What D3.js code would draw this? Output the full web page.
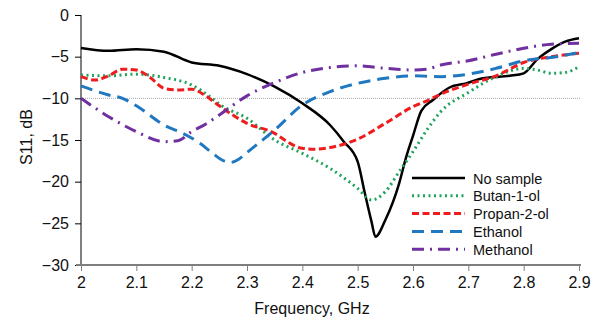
<!DOCTYPE html>
<html>
<head>
<meta charset="utf-8">
<script src="https://cdn.jsdelivr.net/npm/d3@7"></script>
<style>
  body { margin: 0; background: #fff; }
  text { font-family: "Liberation Sans", Arial, sans-serif; }
</style>
</head>
<body>
<div id="chart"></div>
<script>
// frequency (GHz), S11 (dB)
const noSample = [
  [2.0, -3.95], [2.05, -4.3], [2.1, -4.1], [2.15, -4.4], [2.2, -5.7], [2.25, -6.1],
  [2.3, -7.1], [2.35, -8.6], [2.4, -10.6], [2.45, -13.2], [2.475, -15.2], [2.5, -17.6],
  [2.513, -21.4], [2.525, -24.8], [2.532, -26.6], [2.55, -24.6], [2.575, -20.2],
  [2.587, -17.2], [2.6, -14.5], [2.615, -11.5], [2.636, -10.2], [2.666, -8.7],
  [2.696, -8.2], [2.726, -7.6], [2.775, -7.3], [2.8, -7.0], [2.825, -5.3],
  [2.85, -4.1], [2.875, -3.2], [2.9, -2.8]
];
const butanol = [
  [2.0, -7.2], [2.05, -7.3], [2.1, -7.1], [2.15, -7.5], [2.2, -8.4], [2.233, -9.8],
  [2.25, -10.7], [2.3, -12.4], [2.35, -15.0], [2.4, -16.6], [2.45, -18.4], [2.5, -20.8],
  [2.525, -22.2], [2.55, -21.2], [2.575, -18.8], [2.6, -16.4], [2.625, -13.8],
  [2.65, -11.6], [2.7, -9.3], [2.75, -7.4], [2.8, -6.4], [2.825, -6.6], [2.85, -7.0],
  [2.875, -6.9], [2.9, -6.2]
];
const propanol = [
  [2.0, -7.4], [2.025, -7.8], [2.05, -7.3], [2.075, -6.5], [2.1, -6.6], [2.125, -7.5],
  [2.15, -8.8], [2.175, -9.0], [2.2, -8.9], [2.225, -9.7], [2.25, -10.9], [2.3, -13.0],
  [2.35, -14.2], [2.375, -15.3], [2.4, -16.0], [2.425, -16.1], [2.45, -15.9],
  [2.5, -14.9], [2.55, -13.0], [2.6, -11.0], [2.625, -10.3], [2.65, -9.5], [2.7, -8.3],
  [2.75, -7.3], [2.8, -5.7], [2.85, -5.0], [2.9, -4.6]
];
const ethanol = [
  [2.0, -8.5], [2.05, -9.6], [2.075, -10.0], [2.1, -10.9], [2.15, -13.2], [2.19, -14.4],
  [2.215, -15.4], [2.238, -16.6], [2.255, -17.4], [2.27, -17.7], [2.285, -17.3],
  [2.3, -16.5], [2.35, -13.8], [2.4, -10.8], [2.45, -9.2], [2.5, -8.2], [2.55, -7.6],
  [2.6, -7.3], [2.65, -7.4], [2.7, -7.1], [2.75, -6.4], [2.8, -5.5], [2.85, -5.1], [2.9, -4.5]
];
const methanol = [
  [2.0, -10.0], [2.05, -12.2], [2.1, -14.0], [2.15, -15.2], [2.175, -15.1], [2.2, -14.0],
  [2.225, -13.1], [2.25, -12.0], [2.3, -9.7], [2.35, -8.1], [2.4, -6.9], [2.45, -6.3],
  [2.5, -6.1], [2.55, -6.4], [2.6, -6.6], [2.625, -6.5], [2.65, -6.0], [2.7, -5.5],
  [2.75, -4.7], [2.8, -4.0], [2.85, -3.5], [2.9, -3.4]
];

const seriesNames = ["No sample", "Butan-1-ol", "Propan-2-ol", "Ethanol", "Methanol"];
const xTicks = [2, 2.1, 2.2, 2.3, 2.4, 2.5, 2.6, 2.7, 2.8, 2.9];
const yTicks = [0, -5, -10, -15, -20, -25, -30];
const threshold = -10;

const series = [
  { name: seriesNames[0], values: noSample, color: "#000000", width: 2.5, dash: null },
  { name: seriesNames[1], values: butanol, color: "#1fa35c", width: 3, dash: "2,3.5" },
  { name: seriesNames[2], values: propanol, color: "#ee1c1c", width: 3, dash: "7,3.5" },
  { name: seriesNames[3], values: ethanol, color: "#1f78c0", width: 3, dash: "12,7" },
  { name: seriesNames[4], values: methanol, color: "#7030a0", width: 3, dash: "12,6,2,6" }
];

const width = 601, height = 325;
const margin = { top: 15, right: 21, bottom: 60, left: 81 };
const innerW = width - margin.left - margin.right;
const innerH = height - margin.top - margin.bottom;
const tickFont = 16;

const svg = d3.select("#chart").append("svg")
  .attr("width", width).attr("height", height);

const g = svg.append("g").attr("transform", `translate(${margin.left},${margin.top})`);

const x = d3.scaleLinear().domain([2, 2.9]).range([0, innerW - 1]);
const y = d3.scaleLinear().domain([-30, 0]).range([innerH, 0]);

// -10 dB reference line
g.append("line")
  .attr("x1", x(2)).attr("x2", x(2.9) + 2)
  .attr("y1", y(threshold)).attr("y2", y(threshold))
  .attr("stroke", "#a8a8a8").attr("stroke-width", 1)
  .attr("stroke-dasharray", "1,1");

// y axis
g.append("g")
  .call(d3.axisLeft(y).tickValues(yTicks).tickSize(6).tickPadding(6).tickFormat(d3.format("d")))
  .call(a => a.select(".domain").attr("stroke", "#000").attr("d", `M0,${innerH}V0`))
  .call(a => a.selectAll("line").attr("stroke", "#000"))
  .call(a => a.selectAll("text").attr("font-size", tickFont).attr("fill", "#111")
    .style("font-family", "'Liberation Sans', Arial, sans-serif"));

// x axis
g.append("g")
  .attr("transform", `translate(0,${innerH})`)
  .call(d3.axisBottom(x).tickValues(xTicks).tickSize(6).tickPadding(6).tickFormat(d => d3.format("")(d)))
  .call(a => a.select(".domain").attr("stroke", "#7f7f7f").attr("stroke-width", 2)
    .attr("d", `M-5,0H${innerW + 1}`))
  .call(a => a.selectAll("line").attr("stroke", "#7f7f7f"))
  .call(a => a.selectAll("text").attr("font-size", tickFont).attr("fill", "#111")
    .style("font-family", "'Liberation Sans', Arial, sans-serif"));

// series lines
const line = d3.line()
  .x(d => x(d[0]))
  .y(d => y(d[1]))
  .curve(d3.curveMonotoneX);

series.forEach(s => {
  g.append("path")
    .datum(s.values)
    .attr("d", line)
    .attr("fill", "none")
    .attr("stroke", s.color)
    .attr("stroke-width", s.width)
    .attr("stroke-dasharray", s.dash);
});

// axis titles
svg.append("text")
  .attr("x", 312).attr("y", 314)
  .attr("text-anchor", "middle")
  .attr("font-size", 16).attr("fill", "#111")
  .text("Frequency, GHz");

svg.append("text")
  .attr("transform", `translate(32,137) rotate(-90)`)
  .attr("text-anchor", "middle")
  .attr("font-size", 16).attr("fill", "#111")
  .text("S11, dB");

// legend
const legend = svg.append("g").attr("transform", "translate(412,178)");
series.forEach((s, i) => {
  const row = legend.append("g").attr("transform", `translate(0,${i * 17.8})`);
  row.append("line")
    .attr("x1", 0).attr("x2", 53)
    .attr("stroke", s.color)
    .attr("stroke-width", s.width)
    .attr("stroke-dasharray", s.dash);
  row.append("text")
    .attr("x", 61).attr("y", 5.5)
    .attr("font-size", 14.5).attr("fill", "#111")
    .text(s.name);
});
</script>
</body>
</html>
